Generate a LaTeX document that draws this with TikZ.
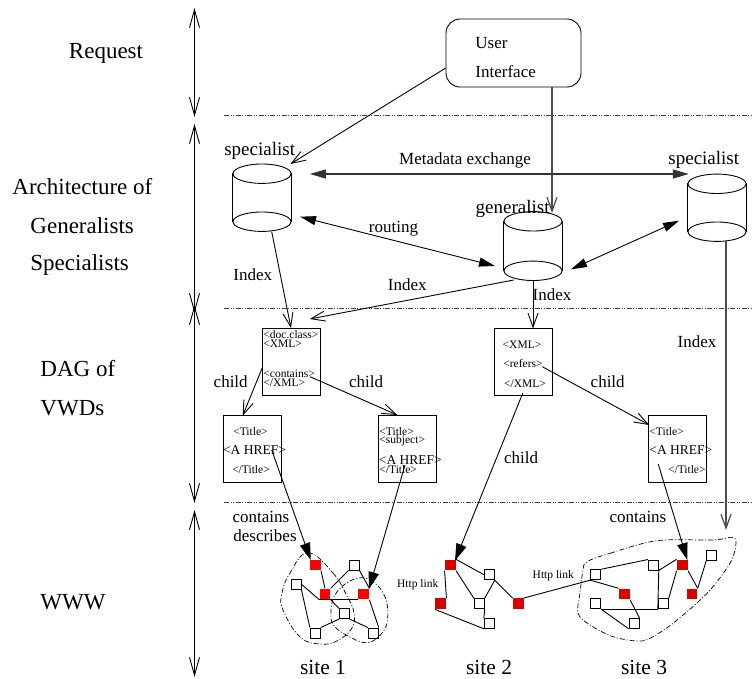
\documentclass[tikz,border=0pt]{standalone}
\usepackage{fontspec}
\setmainfont{Liberation Serif}
\usetikzlibrary{arrows.meta}
\newcommand{\dbcyl}[4]{
  \node[inner sep=0pt, minimum width=58pt, minimum height=#4-#3] (#1) at (#2,{(#3+#4)/2}) {};
  \draw (#2,#3) ellipse (29 and 9.7);
  \draw (#2,#4) ellipse (29 and 9.7);
  \draw (#1.north west) to (#1.south west);
  \draw (#1.north east) to (#1.south east);
}
\begin{document}
\begin{tikzpicture}[x=1pt, y=-1pt, line width=0.9pt,
    openarr/.style={-{Straight Barb[length=14pt,width=10pt]}},
    bothopen/.style={{Straight Barb[length=18pt,width=10pt]}-{Straight Barb[length=18pt,width=10pt]}},
    fillarr/.style={-{Triangle[length=17pt,width=10.5pt]}},
    bothfill/.style={{Triangle[length=16pt,width=9pt]}-{Triangle[length=16pt,width=9pt]}},
    levelline/.style={line width=1pt, black!75, dash pattern=on 5pt off 1.5pt on 1pt off 1.5pt on 1pt off 1.5pt},
    siteline/.style={line width=0.7pt, dash pattern=on 5pt off 2pt on 1pt off 2pt},
    biglab/.style={font=\fontsize{23}{23}\selectfont, inner sep=0pt},
    speclab/.style={font=\fontsize{19}{19}\selectfont, inner sep=0pt},
    sitelab/.style={font=\fontsize{21.5}{21.5}\selectfont, inner sep=0pt},
    lab/.style={font=\fontsize{17}{17}\selectfont, inner sep=0pt},
    tag/.style={font=\fontsize{11.5}{11.5}\selectfont, inner sep=0pt},
    href/.style={font=\fontsize{13.5}{13.5}\selectfont, inner sep=0pt},
    docbox/.style={draw, inner sep=0pt, minimum width=58pt, minimum height=67pt},
    websq/.style={draw, inner sep=0pt, minimum size=10pt},
    redsq/.style={fill=red, inner sep=0pt, minimum size=10.5pt},
    dksq/.style={fill=red!85!black, inner sep=0pt, minimum size=10.5pt}]
  \useasboundingbox (0,0) rectangle (753,679);

  % levels
  \coordinate (la) at (194.5,8);
  \coordinate (lb) at (194.5,117);
  \coordinate (lc) at (194.5,124);
  \coordinate (ld) at (194.5,313);
  \coordinate (le) at (194.5,305);
  \coordinate (lf) at (194.5,503);
  \coordinate (lg) at (194.5,510);
  \coordinate (lh) at (194.5,677);
  \draw [bothopen] (la) to (lb);
  \draw [bothopen] (lc) to (ld);
  \draw [bothopen] (le) to (lf);
  \draw [bothopen] (lg) to (lh);
  \foreach \n/\y in {ra/116, rb/309, rc/502} {
    \coordinate (\n l) at (224,\y);
    \coordinate (\n r) at (753,\y);
    \draw [levelline] (\n l) to (\n r);
  }

  \node [biglab] (request) at (106,53) {Request};
  \node [biglab, anchor=west] (arch) at (12,187) {Architecture of};
  \node [biglab, anchor=west] (gens) at (30,226) {Generalists};
  \node [biglab, anchor=west] (spcs) at (30,265) {Specialists};
  \node [biglab, anchor=west] (dag) at (40,369) {DAG of};
  \node [biglab, anchor=west] (vwds) at (40,408) {VWDs};
  \node [biglab, anchor=west] (www) at (40,602) {WWW};

  % user interface and databases
  \node [draw, rounded corners=14pt, inner sep=0pt, minimum width=135pt, minimum height=68pt] (ui) at (513.5,53) {};
  \node [lab, anchor=west] (uia) at (475,43) {User};
  \node [lab, anchor=west] (uib) at (475,71.5) {Interface};
  \dbcyl{speca}{262}{173.7}{221.7}
  \dbcyl{gen}{533}{221.3}{270.8}
  \dbcyl{specb}{717}{183.8}{231.7}
  \node [speclab] (speclaba) at (259.7,151) {specialist};
  \node [speclab] (genlab) at (512.6,209) {generalist};
  \node [speclab] (speclabb) at (703.8,160) {specialist};

  % documents
  \node [docbox] (doca) at (291,362) {};
  \node [docbox] (docb) at (523,362) {};
  \node [docbox] (titlea) at (252.5,449) {};
  \node [docbox] (titleb) at (407,449) {};
  \node [docbox] (titlec) at (677.7,449) {};
  \node [tag, anchor=west] (ta) at (263,334.5) {<doc.class>};
  \node [tag, anchor=west] (tb) at (263,344) {<XML>};
  \node [tag, anchor=west] (tc) at (263,373.7) {<contains>};
  \node [tag, anchor=west] (td) at (263,383) {</XML>};
  \node [tag] (te) at (522,344.5) {<XML>};
  \node [tag] (tf) at (523,364) {<refers>};
  \node [tag] (tg) at (525,383.5) {</XML>};
  \node [tag] (th) at (250.5,431.5) {<Title>};
  \node [href] (ti) at (254.5,450) {<A HREF>};
  \node [tag] (tj) at (251,469.5) {</Title>};
  \node [tag, anchor=west] (tk) at (379,431.5) {<Title>};
  \node [tag, anchor=west] (tl) at (379,440.5) {<subject>};
  \node [href, anchor=west] (tm) at (378.5,460) {<A HREF>};
  \node [tag, anchor=west] (tn) at (379,469.5) {</Title>};
  \node [tag, anchor=west] (to) at (649,431.5) {<Title>};
  \node [href, anchor=west] (tp) at (649,450) {<A HREF>};
  \node [tag, anchor=east] (tq) at (706,469.5) {</Title>};

  % web pages
  \foreach \n/\x/\y in {ab/354/565, ac/296/584.3, af/344.3/613.7, ag/315.3/633, ah/373.3/633,
      bb/489.3/574.7, bc/479.3/603.7, be/489.3/623.3,
      ca/595.7/574.7, cb/653.3/565, cd/711.7/555.3, cg/663.3/603.7, ch/595.7/603.7, ci/634/623.3}
    \node [websq] (\n) at (\x,\y) {};
  \foreach \n/\x/\y in {aa/315.3/565, ad/325/594, ae/363.7/594}
    \node [redsq] (\n) at (\x,\y) {};
  \foreach \n/\x/\y in {ba/450.3/565, bd/440.7/603.7, bf/518.3/603.7,
      cc/682.3/565, ce/624.3/594, cf/692/594}
    \node [dksq] (\n) at (\x,\y) {};

  \draw (aa.south east) to (ad.north);
  \draw (ac.east) to (ad.south west);
  \draw (ad.north east) to (ab.south west);
  \draw (ad.south west) to (ae.south west);
  \draw (ab.south east) to (ae.north east);
  \draw (ae.south east) to (ah.north east);
  \draw (ac.south east) to (ag.north west);
  \draw (ad.south east) to (af.north west);
  \draw (af.south west) to (ag.north east);
  \draw (af.south east) to (ah.north west);

  \draw (ba.north east) to (bb.west);
  \draw (ba.south east) to (bc.north west);
  \draw (ba.south west) to (bd.north east);
  \draw (bb.south east) to (bc.north east);
  \draw (bc.south east) to (be.north west);
  \draw (bd.south west) to (be.south west);
  \draw (bb.south east) to (bf.north west);
  \draw (bf.north east) to (ca.south west);

  \draw (ca.north east) to (cb.north west);
  \draw (ca.south west) to (ce.north west);
  \draw (cb.south east) to (cg.south west);
  \draw (cb.south east) to (cc.north west);
  \draw (cc.south west) to (cg.north east);
  \draw (cc.south east) to (cf.north east);
  \draw (cf.north east) to (cd.south west);
  \draw (ch.south east) to (cg.south west);
  \draw (ch.south east) to (ci.south west);
  \draw (ce.south east) to (ci.north east);

  % sites
  \draw [siteline] plot [smooth cycle, tension=0.7] coordinates {(308,552.7) (333,573) (348,598) (354,613) (352,628) (337,641) (320,644) (300,637) (283,610) (282,593) (290,573)};
  \draw [siteline] plot [smooth cycle, tension=0.7] coordinates {(352,580) (370,580) (385,597) (387,623) (377,638) (365,642.7) (350,637) (335,627) (331,615) (335,595)};
  \draw [siteline] plot [smooth cycle, tension=0.55] coordinates {(587,561.7) (610,553.3) (657,540.7) (713,540) (732,537.3) (736,543.3) (730,563.3) (707,593.3) (673,623.3) (650,638.3) (637,641) (613,636.7) (590,625) (578,613.3) (580,593.3) (583,570)};

  % connectors
  \coordinate (speca in) at (290.4,164);
  \coordinate (ui out) at (445.7,68);
  \coordinate (uidown) at (552,87);
  \coordinate (genin) at (552,213);
  \draw [openarr] (ui out) to (speca in);
  \draw [openarr, black!70, line width=1.2pt] (uidown) to (genin);
  \coordinate (meta a) at (309.8,174);
  \coordinate (meta b) at (688.8,174);
  \coordinate (rout a) at (300,216.7);
  \coordinate (rout b) at (495,266);
  \coordinate (rout c) at (571,269.3);
  \coordinate (rout d) at (679,220.7);
  \draw [bothfill, black!80, line width=1.1pt] (meta a) to (meta b);
  \draw [bothfill] (rout a) to (rout b);
  \draw [bothfill] (rout c) to (rout d);
  \coordinate (speca out) at (271.7,231.7);
  \coordinate (gen outa) at (513.7,280);
  \coordinate (doca in) at (309.8,319);
  \coordinate (gen outb) at (533,280);
  \coordinate (docb in) at (533,328.5);
  \coordinate (specb out) at (726,241);
  \coordinate (specb in) at (726,530);
  \draw [openarr] (speca out) to (doca.north);
  \draw [openarr] (gen outa) to (doca in);
  \draw [openarr] (gen outb) to (docb in);
  \draw [openarr, black!70, line width=1.2pt] (specb out) to (specb in);

  \coordinate (doca out) at (262.3,367.7);
  \coordinate (contains) at (310,376.7);
  \coordinate (titleb in) at (397.3,415);
  \coordinate (titlea in) at (242.7,415.7);
  \coordinate (refers) at (542.3,366.7);
  \coordinate (titlec in) at (649.3,425);
  \draw [openarr] (doca out) to (titlea in);
  \draw [openarr] (contains) to (titleb in);
  \draw [openarr] (refers) to (titlec in);

  \coordinate (hrefa) at (271.7,450);
  \coordinate (hrefb) at (405,465);
  \coordinate (hrefc) at (658.3,464.3);
  \coordinate (xmlb) at (522.7,393.3);
  \coordinate (aa in) at (310.7,560);
  \coordinate (ae in) at (369,589);
  \coordinate (ba in) at (455,560.7);
  \coordinate (cc in) at (687.3,560);
  \draw [fillarr] (hrefa) to (aa in);
  \draw [fillarr] (hrefb) to (ae in);
  \draw [fillarr] (xmlb) to (ba in);
  \draw [fillarr] (hrefc) to (cc in);

  % labels
  \node [lab] (metalab) at (465,160.5) {Metadata exchange};
  \node [lab] (routlab) at (393.5,229) {routing};
  \node [lab] (ixa) at (252.7,275) {Index};
  \node [lab] (ixb) at (407.3,285) {Index};
  \node [lab] (ixc) at (552,295) {Index};
  \node [lab] (ixd) at (697,342) {Index};
  \node [lab] (cha) at (230.7,381.7) {child};
  \node [lab] (chb) at (366,381.7) {child};
  \node [lab] (chc) at (607.7,381.7) {child};
  \node [lab] (chd) at (521,458) {child};
  \node [lab] (cona) at (261,517) {contains};
  \node [lab] (desc) at (265,536) {describes};
  \node [lab] (conb) at (638,517) {contains};
  \node [tag] (httpa) at (417.7,585) {Http link};
  \node [tag] (httpb) at (553.3,576) {Http link};
  \node [sitelab] (sitea) at (323,667.5) {site 1};
  \node [sitelab] (siteb) at (489,667.5) {site 2};
  \node [sitelab] (sitec) at (644,667.5) {site 3};
\end{tikzpicture}
\end{document}
